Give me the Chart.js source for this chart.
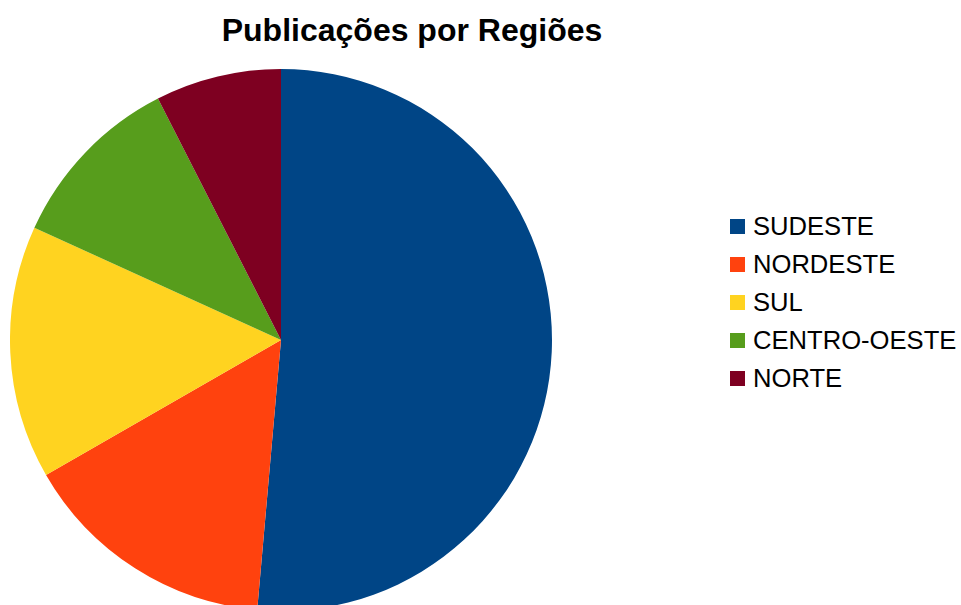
<!DOCTYPE html>
<html>
<head>
<meta charset="utf-8">
<script src="https://cdn.jsdelivr.net/npm/chart.js@4/dist/chart.umd.min.js"></script>
<style>
  html, body { margin: 0; padding: 0; background: #fff; overflow: hidden; }
  body { width: 961px; height: 605px; position: relative; font-family: "Liberation Sans", Arial, sans-serif; }
  #title { position: absolute; left: 0; width: 824px; top: 12px; text-align: center; font-weight: bold; font-size: 32px; line-height: normal; color: #000; }
  #pieBox { position: absolute; left: 10px; top: 69px; width: 542px; height: 542px; }
  #legend { position: absolute; left: 730px; top: 208px; }
  .row { display: flex; align-items: center; height: 37.8px; font-size: 25.6px; color: #000; white-space: nowrap; }
  .sq { width: 15px; height: 15px; margin-right: 8px; }
</style>
</head>
<body>
<div id="title">Publicações por Regiões</div>
<div id="pieBox"><canvas id="pie" width="542" height="542"></canvas></div>
<div id="legend"></div>
<script>
const regioes = ['SUDESTE', 'NORDESTE', 'SUL', 'CENTRO-OESTE', 'NORTE'];
const publicacoes = [51.4, 15.3, 15.1, 10.7, 7.5];
const cores = ['#004586', '#ff420e', '#ffd320', '#579d1c', '#7e0021'];

// legenda em html
const leg = document.getElementById('legend');
regioes.forEach((r, i) => {
  const row = document.createElement('div');
  row.className = 'row';
  row.innerHTML = '<span class="sq" style="background:' + cores[i] + '"></span>' + r;
  leg.appendChild(row);
});

new Chart(document.getElementById('pie'), {
  type: 'pie',
  data: {
    labels: regioes,
    datasets: [{
      data: publicacoes,
      backgroundColor: cores,
      borderWidth: 0
    }]
  },
  options: {
    responsive: false,
    animation: false,
    layout: { padding: 0 },
    plugins: {
      legend: { display: false },
      tooltip: { enabled: false },
      title: { display: false }
    }
  }
});
</script>
</body>
</html>
